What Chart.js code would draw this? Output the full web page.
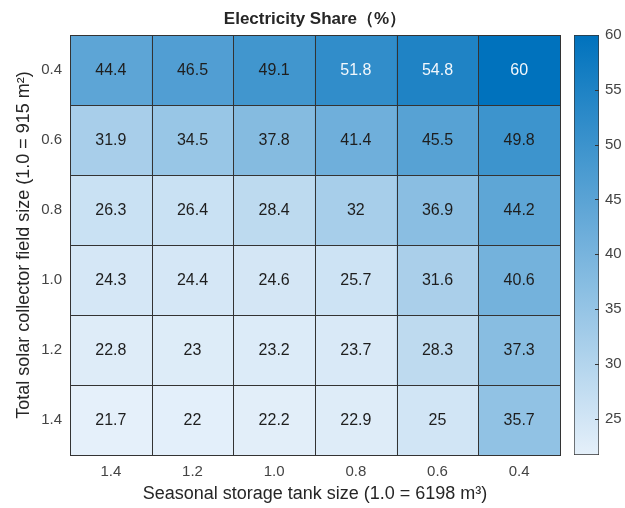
<!DOCTYPE html>
<html>
<head>
<meta charset="utf-8">
<script src="https://cdn.jsdelivr.net/npm/chart.js@4"></script>
<style>
  html, body { margin: 0; padding: 0; background: #fff; }
  #wrap { position: relative; width: 625px; height: 508px; }
  #heat { position: absolute; left: 0; top: 0; }
  #scaleBar { position: absolute; left: 560px; top: 0; }
</style>
</head>
<body>
<div id="wrap">
  <canvas id="heat" width="625" height="508"></canvas>
  <canvas id="scaleBar" width="65" height="508"></canvas>
</div>
<script>
// Columns: seasonal storage tank size, rows: total solar collector field size
const tankSizes = ['1.4', '1.2', '1.0', '0.8', '0.6', '0.4'];
const fieldSizes = ['0.4', '0.6', '0.8', '1.0', '1.2', '1.4'];

// Electricity share (%) per collector field size, one value per tank size
const share04 = [44.4, 46.5, 49.1, 51.8, 54.8, 60];
const share06 = [31.9, 34.5, 37.8, 41.4, 45.5, 49.8];
const share08 = [26.3, 26.4, 28.4, 32, 36.9, 44.2];
const share10 = [24.3, 24.4, 24.6, 25.7, 31.6, 40.6];
const share12 = [22.8, 23, 23.2, 23.7, 28.3, 37.3];
const share14 = [21.7, 22, 22.2, 22.9, 25, 35.7];

const colorbarTicks = [25, 30, 35, 40, 45, 50, 55, 60];

const rows = [share04, share06, share08, share10, share12, share14];
const allValues = rows.flat();
const cMin = Math.min(...allValues);
const cMax = Math.max(...allValues);

const FONT = "'Liberation Sans', Arial, Helvetica, sans-serif";
const LOW = [229, 240, 250];
const HIGH = [0, 114, 189];

function mix(t) {
  const c = LOW.map((l, k) => Math.round(l + (HIGH[k] - l) * t));
  return `rgb(${c[0]},${c[1]},${c[2]})`;
}
function level(v) { return (v - cMin) / (cMax - cMin); }
function colorFor(v) { return mix(level(v)); }

// Each row becomes one dataset of full-height cells spanning [i, i+1]
const datasets = rows.map((vals, i) => ({
  label: fieldSizes[i],
  values: vals,
  data: vals.map(() => [i, i + 1]),
  backgroundColor: vals.map(colorFor),
  borderWidth: 0,
  grouped: false,
  categoryPercentage: 1,
  barPercentage: 1
}));

// Cell outlines and the value written in each cell
const cellPlugin = {
  id: 'cellPlugin',
  afterDatasetsDraw(chart) {
    const ctx = chart.ctx;
    const xs = new Set();
    const ys = new Set();
    ctx.save();
    ctx.font = `16px ${FONT}`;
    ctx.textAlign = 'center';
    ctx.textBaseline = 'middle';
    chart.data.datasets.forEach((ds, i) => {
      const meta = chart.getDatasetMeta(i);
      meta.data.forEach((el, j) => {
        const left = el.x - el.width / 2;
        const right = el.x + el.width / 2;
        xs.add(Math.round(left)); xs.add(Math.round(right));
        ys.add(Math.round(el.y)); ys.add(Math.round(el.base));
        const v = ds.values[j];
        ctx.fillStyle = level(v) > 0.75 ? '#f2f7fc' : '#1e1e1e';
        ctx.fillText(String(v), el.x, (el.y + el.base) / 2 + 1);
      });
    });
    const xl = Math.min(...xs), xr = Math.max(...xs);
    const yt = Math.min(...ys), yb = Math.max(...ys);
    ctx.strokeStyle = '#333';
    ctx.lineWidth = 1;
    ctx.beginPath();
    xs.forEach(x => { ctx.moveTo(x + 0.5, yt); ctx.lineTo(x + 0.5, yb + 1); });
    ys.forEach(y => { ctx.moveTo(xl, y + 0.5); ctx.lineTo(xr + 1, y + 0.5); });
    ctx.stroke();
    ctx.restore();
  }
};

new Chart(document.getElementById('heat'), {
  type: 'bar',
  data: { labels: tankSizes, datasets },
  options: {
    responsive: false,
    animation: false,
    devicePixelRatio: 1,
    layout: { padding: { left: 0, right: 65, top: 0, bottom: 0 } },
    plugins: {
      legend: { display: false },
      tooltip: { enabled: false },
      title: {
        display: true,
        text: 'Electricity Share（%）',
        fullSize: false,
        color: '#262626',
        font: { family: FONT, size: 17, weight: 'bold' },
        padding: { top: 9, bottom: 5.6 }
      }
    },
    scales: {
      x: {
        type: 'category',
        grid: { display: false, drawTicks: false },
        border: { display: false },
        ticks: { color: '#444', font: { family: FONT, size: 15 }, padding: 8, maxRotation: 0 },
        title: {
          display: true,
          text: 'Seasonal storage tank size (1.0 = 6198 m³)',
          color: '#262626',
          font: { family: FONT, size: 18 },
          padding: { top: 0, bottom: 3 }
        },
        afterFit(scale) { scale.height = 53; }
      },
      y: {
        type: 'linear',
        min: 0,
        max: 6,
        reverse: true,
        grid: { display: false, drawTicks: false },
        border: { display: false },
        afterBuildTicks(scale) {
          scale.ticks = fieldSizes.map((_, i) => ({ value: i + 0.5 }));
        },
        ticks: {
          color: '#444',
          font: { family: FONT, size: 15 },
          padding: 8,
          callback: (value) => fieldSizes[Math.floor(value)]
        },
        title: {
          display: true,
          text: 'Total solar collector field size (1.0 = 915 m²)',
          color: '#262626',
          font: { family: FONT, size: 18 },
          padding: { top: 13, bottom: 0 }
        },
        afterFit(scale) { scale.width = 70; }
      }
    }
  },
  plugins: [cellPlugin]
});

// Colour scale bar with its tick marks
const tickMarks = {
  id: 'tickMarks',
  afterDatasetsDraw(chart) {
    const ctx = chart.ctx;
    const y = chart.scales.y;
    const r = chart.chartArea.right;
    ctx.save();
    ctx.strokeStyle = '#333';
    ctx.lineWidth = 1;
    ctx.beginPath();
    colorbarTicks.forEach(v => {
      if (v >= cMax) return;
      const py = Math.round(y.getPixelForValue(v)) + 0.5;
      ctx.moveTo(r - 4, py); ctx.lineTo(r, py);
    });
    ctx.stroke();
    ctx.restore();
  }
};

new Chart(document.getElementById('scaleBar'), {
  type: 'bar',
  data: {
    labels: [''],
    datasets: [{
      data: [[cMin, cMax]],
      backgroundColor(context) {
        const chart = context.chart;
        const area = chart.chartArea;
        if (!area) return mix(0.5);
        const y = chart.scales.y;
        const g = chart.ctx.createLinearGradient(0, y.getPixelForValue(cMin), 0, y.getPixelForValue(cMax));
        for (let k = 0; k <= 10; k++) g.addColorStop(k / 10, mix(k / 10));
        return g;
      },
      borderColor: '#333',
      borderWidth: 1,
      borderSkipped: false,
      categoryPercentage: 1,
      barPercentage: 1
    }]
  },
  options: {
    responsive: false,
    animation: false,
    devicePixelRatio: 1,
    layout: { padding: { left: 14, right: 0, top: 35, bottom: 53 } },
    plugins: { legend: { display: false }, tooltip: { enabled: false } },
    scales: {
      x: { display: false },
      y: {
        position: 'right',
        min: cMin,
        max: cMax,
        grid: { display: false, drawTicks: false },
        border: { display: false },
        afterBuildTicks(scale) {
          scale.ticks = colorbarTicks.map(v => ({ value: v }));
        },
        ticks: { color: '#444', font: { family: FONT, size: 15 }, padding: 6 },
        afterFit(scale) { scale.width = 26; }
      }
    }
  },
  plugins: [tickMarks]
});
</script>
</body>
</html>
